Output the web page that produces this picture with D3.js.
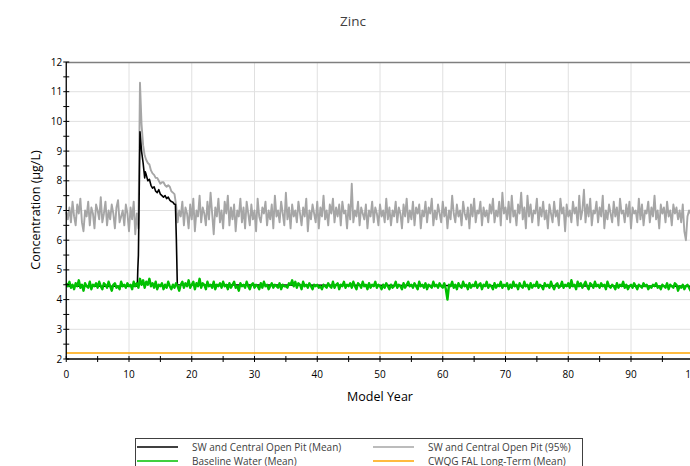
<!DOCTYPE html>
<html><head><meta charset="utf-8">
<script src="https://cdn.jsdelivr.net/npm/d3@7"></script>
<style>body{margin:0;background:#fff}svg{display:block;font-family:"Open Sans",sans-serif}</style>
</head><body><svg id="c" width="690" height="466"></svg>
<script>
const title = "Zinc";
const xTicks = [0,10,20,30,40,50,60,70,80,90,100];
const yTicks = [2,3,4,5,6,7,8,9,10,11,12];
const step = 0.25;
// SW and Central Open Pit (95%) – one value every 0.25 model year
const grayValues = [
6.95,6.7,7.1,6.6,7.3,6.8,6.5,7.2,6.9,7.4,6.6,6.3,7.0,6.8,7.3,6.5,7.1,6.9,6.4,7.2,
7.0,6.7,7.45,6.6,6.9,7.3,6.5,7.0,6.7,7.2,6.9,6.4,7.1,7.35,6.6,6.8,7.0,6.5,7.2,6.9,
6.3,7.1,6.7,7.3,6.2,6.9,
6.4,11.3,9.9,9.2,8.85,8.7,8.6,8.55,8.35,8.25,8.2,8.1,8.1,8.0,7.9,7.95,7.95,7.85,7.8,7.85,7.8,7.65,7.6,7.55,
7.2,6.6,7.0,6.8,7.3,6.5,7.1,6.9,6.4,7.2,6.7,7.4,6.3,7.0,6.8,7.5,6.6,7.1,6.9,6.5,
7.3,6.7,7.6,6.9,6.2,7.1,6.8,7.4,6.6,7.0,6.4,7.3,6.9,7.5,6.5,7.1,6.7,7.2,6.3,7.0,
6.8,7.4,6.6,7.1,6.4,7.3,6.9,6.5,7.2,6.7,7.0,6.3,7.4,6.8,6.6,7.1,6.9,7.3,6.5,7.0,
6.7,7.2,6.4,7.5,6.8,7.0,6.6,7.3,6.9,6.5,7.6,6.7,7.1,6.4,7.2,6.8,7.0,6.6,7.3,6.9,
6.5,7.1,6.8,7.4,6.3,7.0,6.7,7.2,6.9,6.6,7.3,6.4,7.1,6.8,7.5,6.7,7.0,6.5,7.2,6.9,
7.4,6.6,7.1,6.8,7.2,6.5,7.3,6.9,7.0,6.4,7.2,6.7,7.9,6.6,7.0,6.8,7.3,6.5,7.1,6.9,
6.7,7.2,6.4,7.0,6.8,7.3,6.6,7.1,6.9,6.5,7.2,6.8,7.0,6.6,7.4,6.7,7.1,6.5,7.0,6.8,
7.3,6.6,7.1,6.9,6.4,7.2,6.8,7.4,6.6,7.0,6.7,7.3,6.5,7.1,6.9,7.2,6.4,7.0,6.8,7.3,
6.6,7.1,6.9,7.4,6.5,7.0,6.7,7.2,6.9,6.6,7.3,6.8,7.1,6.4,7.0,6.7,7.5,6.9,6.6,7.2,
6.8,7.0,6.5,7.3,6.9,6.7,7.1,6.4,7.2,6.8,7.4,6.6,7.0,6.9,7.3,6.5,7.1,6.8,7.0,6.6,
7.2,6.9,7.4,6.6,7.0,6.8,7.3,6.5,7.6,6.9,7.1,6.7,7.3,6.6,7.5,6.8,7.0,6.5,7.2,6.9,
7.6,6.7,7.1,6.4,7.5,6.8,7.2,6.6,7.0,6.9,7.4,6.5,7.1,6.8,7.3,6.7,7.0,6.4,7.2,6.9,
6.6,7.3,6.8,7.0,6.5,7.4,6.9,7.1,6.3,7.2,6.8,7.0,6.6,7.3,6.9,7.1,6.5,7.5,6.7,7.0,
7.7,6.6,7.2,6.8,7.4,6.5,7.0,6.9,7.3,6.6,7.1,6.8,7.5,6.4,7.0,6.7,7.2,6.9,6.6,7.3,
6.8,7.1,6.5,7.4,6.9,7.0,6.6,7.2,6.8,7.3,6.4,7.1,6.9,7.0,6.6,7.4,6.7,7.2,6.5,7.0,
6.9,7.3,6.6,7.1,6.8,7.5,6.7,7.0,6.4,7.2,6.9,7.1,6.6,7.3,6.8,7.0,6.5,7.2,6.9,7.1,
6.7,7.0,6.6,7.2,6.3,6.0,6.8,7.0,6.9,6.7,6.8];
// Baseline Water (Mean) – one value every 0.25 model year
const greenValues = [
4.55,4.45,4.6,4.4,4.5,4.35,4.55,4.45,4.65,4.4,4.5,4.3,4.55,4.45,4.4,4.6,4.35,4.5,4.45,4.55,
4.4,4.6,4.45,4.35,4.55,4.5,4.4,4.6,4.45,4.3,4.5,4.55,4.4,4.45,4.35,4.6,4.45,4.5,4.4,4.55,
4.45,4.5,4.35,4.6,4.45,4.55,4.4,4.7,4.5,4.65,4.4,4.6,4.5,4.7,4.45,4.55,4.4,4.6,4.35,4.5,
4.45,4.55,4.35,4.5,4.4,4.6,4.45,4.35,4.5,4.4,4.55,4.45,4.3,4.5,4.6,4.4,4.55,4.45,4.65,4.4,
4.5,4.6,4.35,4.55,4.45,4.7,4.4,4.55,4.5,4.35,4.6,4.45,4.5,4.4,4.6,4.35,4.5,4.45,4.55,4.4,
4.6,4.45,4.5,4.35,4.55,4.4,4.5,4.6,4.4,4.45,4.3,4.55,4.45,4.5,4.4,4.6,4.45,4.35,4.5,4.55,
4.4,4.5,4.45,4.35,4.55,4.4,4.6,4.45,4.5,4.35,4.45,4.55,4.4,4.5,4.45,4.4,4.55,4.35,4.5,4.45,
4.45,4.4,4.55,4.5,4.65,4.45,4.6,4.4,4.55,4.5,4.35,4.6,4.45,4.5,4.4,4.55,4.45,4.35,4.5,4.45,
4.5,4.4,4.45,4.35,4.5,4.45,4.4,4.55,4.45,4.4,4.6,4.4,4.5,4.55,4.35,4.5,4.45,4.6,4.4,4.5,
4.45,4.55,4.4,4.6,4.45,4.35,4.55,4.5,4.4,4.6,4.45,4.5,4.35,4.55,4.4,4.5,4.45,4.6,4.4,4.5,
4.45,4.35,4.5,4.4,4.55,4.45,4.35,4.5,4.4,4.45,4.6,4.4,4.5,4.45,4.35,4.55,4.4,4.5,4.6,4.45,
4.5,4.4,4.55,4.45,4.35,4.6,4.45,4.5,4.4,4.55,4.35,4.5,4.45,4.4,4.6,4.45,4.5,4.4,4.55,4.45,
4.4,4.55,4.35,4.0,4.5,4.45,4.6,4.4,4.5,4.35,4.55,4.45,4.4,4.6,4.45,4.5,4.35,4.55,4.4,4.5,
4.45,4.6,4.4,4.5,4.55,4.35,4.5,4.45,4.6,4.4,4.5,4.45,4.35,4.55,4.4,4.5,4.45,4.6,4.4,4.5,
4.45,4.55,4.35,4.5,4.4,4.6,4.45,4.5,4.35,4.55,4.45,4.4,4.6,4.45,4.5,4.35,4.55,4.4,4.5,4.45,
4.6,4.4,4.5,4.45,4.35,4.55,4.45,4.5,4.4,4.6,4.45,4.35,4.5,4.55,4.4,4.45,4.6,4.4,4.5,4.45,
4.55,4.4,4.65,4.45,4.5,4.35,4.6,4.45,4.55,4.4,4.5,4.6,4.45,4.35,4.55,4.5,4.4,4.6,4.45,4.5,
4.4,4.55,4.45,4.5,4.35,4.6,4.45,4.4,4.5,4.45,4.35,4.55,4.4,4.5,4.45,4.6,4.4,4.5,4.35,4.45,
4.5,4.4,4.55,4.45,4.35,4.5,4.45,4.4,4.55,4.45,4.5,4.35,4.45,4.4,4.5,4.45,4.55,4.4,4.45,4.35,
4.5,4.45,4.4,4.55,4.35,4.5,4.45,4.4,4.55,4.5,4.3,4.45,4.4,4.5,4.35,4.45,4.5,4.4,4.3,4.45,
4.4];
// SW and Central Open Pit (Mean): [year, value]
const blackPoints = [[0,4.45],[11.3,4.45],[11.35,4.6],[11.4,5.0],[11.5,5.5],[11.75,9.65],[12.0,9.0],
[12.25,8.6],[12.4,8.3],[12.5,8.1],[12.6,8.3],[12.75,8.2],[13.0,8.0],[13.25,8.05],[13.5,7.85],[13.75,7.75],
[14.0,7.8],[14.25,7.65],[14.5,7.6],[14.75,7.7],[15.0,7.55],[15.25,7.5],[15.5,7.45],[15.75,7.5],[16.0,7.4],
[16.25,7.45],[16.5,7.35],[16.75,7.3],[17.0,7.28],[17.2,7.22],[17.4,7.2],[17.55,6.0],[17.7,4.5],[100,4.45]];
const cwqgValue = 2.2;
const legendItems = [
  {label:"SW and Central Open Pit (Mean)", color:"#000000"},
  {label:"SW and Central Open Pit (95%)", color:"#a6a6a6"},
  {label:"Baseline Water (Mean)", color:"#00c000"},
  {label:"CWQG FAL Long-Term (Mean)", color:"#ffa500"}
];

const svg = d3.select("#c");
const L = 66.25, R = 693.75, T = 62, B = 359;
const x = d3.scaleLinear().domain([0,100]).range([L,R]);
const y = d3.scaleLinear().domain([2,12]).range([B,T]);

svg.append("text").attr("x",353).attr("y",26).attr("text-anchor","middle")
  .attr("font-size",13.5).attr("fill","#404040").text(title);

// grid
const g = svg.append("g");
g.selectAll(".vg").data(xTicks.slice(1)).join("line")
  .attr("x1",d=>x(d)).attr("x2",d=>x(d)).attr("y1",T).attr("y2",B)
  .attr("stroke","#e0e0e0").attr("stroke-width",1);
g.selectAll(".hg").data(yTicks.slice(1,-1)).join("line")
  .attr("x1",L).attr("x2",R).attr("y1",d=>y(d)).attr("y2",d=>y(d))
  .attr("stroke","#e0e0e0").attr("stroke-width",1);
svg.append("line").attr("x1",L).attr("x2",R).attr("y1",T+0.5).attr("y2",T+0.5)
  .attr("stroke","#7f7f7f").attr("stroke-width",1.5);

const line = d3.line().x(d=>x(d[0])).y(d=>y(d[1]));
const grayData = grayValues.map((v,i)=>[i*step,v]);
const greenData = greenValues.map((v,i)=>[i*step,v]);

svg.append("path").attr("d",line(grayData)).attr("fill","none")
  .attr("stroke","#a6a6a6").attr("stroke-width",1.9).attr("stroke-linejoin","round");
svg.append("path").attr("d",line(blackPoints)).attr("fill","none")
  .attr("stroke","#000").attr("stroke-width",1.6).attr("stroke-linejoin","round");
svg.append("path").attr("d",line(greenData)).attr("fill","none")
  .attr("stroke","#00c000").attr("stroke-width",2.4).attr("stroke-linejoin","round");
svg.append("line").attr("x1",L).attr("x2",R).attr("y1",y(cwqgValue)).attr("y2",y(cwqgValue))
  .attr("stroke","#ffa500").attr("stroke-width",1.5);

// axes
const xa = svg.append("g").attr("transform",`translate(0,${B})`);
xa.append("line").attr("x1",L).attr("x2",R).attr("stroke","#000").attr("stroke-width",1.3);
const xMinor = d3.range(0,101,5);
xa.selectAll(".xt").data(xMinor).join("line")
  .attr("x1",d=>x(d)).attr("x2",d=>x(d)).attr("y1",-3).attr("y2",3)
  .attr("stroke","#000").attr("stroke-width",1);
xa.selectAll(".xl").data(xTicks).join("text")
  .attr("x",d=>x(d)).attr("y",19).attr("text-anchor","middle")
  .attr("font-size",10).attr("fill","#000").text(d=>d);

const ya = svg.append("g").attr("transform",`translate(${L},0)`);
ya.append("line").attr("y1",T).attr("y2",B).attr("stroke","#000").attr("stroke-width",1.3);
const yMinor = d3.range(2,12.01,0.5);
ya.selectAll(".yt").data(yMinor).join("line")
  .attr("y1",d=>y(d)).attr("y2",d=>y(d)).attr("x1",-3).attr("x2",3)
  .attr("stroke","#000").attr("stroke-width",1);
ya.selectAll(".yl").data(yTicks).join("text")
  .attr("x",-4).attr("y",d=>y(d)+3.5).attr("text-anchor","end")
  .attr("font-size",10).attr("fill","#000").text(d=>d);

svg.append("text").attr("transform","translate(40,210) rotate(-90)")
  .attr("text-anchor","middle").attr("font-size",12.5).attr("fill","#000")
  .text("Concentration (µg/L)");
svg.append("text").attr("x",380).attr("y",401).attr("text-anchor","middle")
  .attr("font-size",12.5).attr("fill","#000").text("Model Year");

// legend
const lg = svg.append("g");
lg.append("rect").attr("x",135.5).attr("y",438.5).attr("width",447).attr("height",40)
  .attr("fill","#fff").attr("stroke","#404040").attr("stroke-width",1);
const lx = [137,373], ly = [447,461];
legendItems.forEach((it,i)=>{
  const cx = lx[i%2], cy = ly[Math.floor(i/2)];
  lg.append("line").attr("x1",cx).attr("x2",cx+41).attr("y1",cy).attr("y2",cy)
    .attr("stroke",it.color).attr("stroke-width",1.6);
  lg.append("text").attr("x",cx+55).attr("y",cy+3.5).attr("font-size",10)
    .attr("fill","#404040").text(it.label);
});
</script></body></html>
